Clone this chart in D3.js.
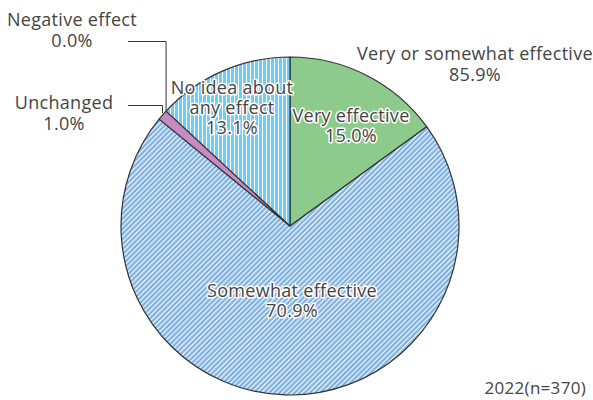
<!DOCTYPE html>
<html>
<head>
<meta charset="utf-8">
<script src="https://cdn.jsdelivr.net/npm/d3@7"></script>
<style>
body { margin:0; background:#fff; }
text { font-family:"Open Sans","Noto Sans",sans-serif; fill:#444; letter-spacing:0.3px; }
</style>
</head>
<body>
<div id="chart"></div>
<script>
// data
var categories = ["Very effective", "Somewhat effective", "Unchanged", "Negative effect", "No idea about any effect"];
var values = [15.0, 70.9, 1.0, 0.0, 13.1];
var totalLabel = ["Very or somewhat effective", "85.9%"];
var noteText = "2022(n=370)";

var W = 593, H = 400, cx = 290, cy = 226, R = 169;

var svg = d3.select("#chart").append("svg").attr("width", W).attr("height", H);
var defs = svg.append("defs");

// hatched fills
var p1 = defs.append("pattern").attr("id", "diag").attr("patternUnits", "userSpaceOnUse")
  .attr("width", 3.6).attr("height", 10).attr("patternTransform", "rotate(45)");
p1.append("rect").attr("width", 3.6).attr("height", 10).attr("fill", "#80b2e2");
p1.append("line").attr("x1", 0.6).attr("x2", 0.6).attr("y1", 0).attr("y2", 10)
  .attr("stroke", "#fff").attr("stroke-width", 1.1);

var p2 = defs.append("pattern").attr("id", "vert").attr("patternUnits", "userSpaceOnUse")
  .attr("width", 4).attr("height", 10);
p2.append("rect").attr("width", 4).attr("height", 10).attr("fill", "#6ccdf5");
p2.append("line").attr("x1", 0.5).attr("x2", 0.5).attr("y1", 0).attr("y2", 10)
  .attr("stroke", "#fff").attr("stroke-width", 1);

var fills = {
  "Very effective": "#8ccb8c",
  "Somewhat effective": "url(#diag)",
  "Unchanged": "#c68bc2",
  "Negative effect": "#e07070",
  "No idea about any effect": "url(#vert)"
};

var rows = categories.map(function(c, i) { return {name: c, value: values[i]}; });
var pie = d3.pie().sort(null).value(function(d) { return d.value; });
var arc = d3.arc().innerRadius(0).outerRadius(R);
var arcs = pie(rows);

var g = svg.append("g").attr("transform", "translate(" + cx + "," + cy + ")");
g.selectAll("path.slice").data(arcs).enter().append("path")
  .attr("class", "slice")
  .attr("d", arc)
  .attr("fill", function(d) { return fills[d.data.name]; })
  .attr("stroke", "#333")
  .attr("stroke-width", function(d) { return d.value > 0 ? 1.2 : 0; })
  .attr("stroke-linejoin", "round");

// one text per line
function lines(arr, x, y, lh, anchor, halo) {
  arr.forEach(function(s, i) {
    var t = svg.append("text").attr("x", x).attr("y", y + i * lh)
      .attr("text-anchor", anchor || "middle").style("font-size", "18px").text(s);
    if (halo) t.attr("stroke", "#fff").attr("stroke-width", 3)
      .attr("paint-order", "stroke").attr("stroke-linejoin", "round");
  });
}
function pct(v) { return d3.format(".1f")(v) + "%"; }
function edgePt(a) { return [cx + R * Math.sin(a), cy - R * Math.cos(a)]; }

// inside labels
var byName = {};
arcs.forEach(function(d) { byName[d.data.name] = d; });
lines(["Very effective", pct(byName["Very effective"].value)], 351, 122, 20, "middle", true);
lines(["Somewhat effective", pct(byName["Somewhat effective"].value)], 292, 297, 20, "middle", true);
lines(["No idea about", "any effect", pct(byName["No idea about any effect"].value)], 232, 94, 20, "middle", true);

// outside labels with leaders
var un = byName["Unchanged"], ng = byName["Negative effect"];
lines(["Negative effect", pct(ng.value)], 72, 26, 21, "middle", false);
lines(["Unchanged", pct(un.value)], 64, 109, 21, "middle", false);

var pN = edgePt(ng.startAngle);
var pU = edgePt((un.startAngle + un.endAngle) / 2);
svg.append("path").attr("fill", "none").attr("stroke", "#333").attr("stroke-width", 1)
  .attr("d", "M128,41.5H" + pN[0] + "V" + pN[1]);
svg.append("path").attr("fill", "none").attr("stroke", "#333").attr("stroke-width", 1)
  .attr("d", "M128,105.5H" + pU[0] + "V" + (pU[1] - 2));

lines(totalLabel, 475, 60, 21, "middle", false);
svg.append("text").attr("x", 586).attr("y", 394).attr("text-anchor", "end")
  .style("font-size", "17px").text(noteText);
</script>
</body>
</html>
